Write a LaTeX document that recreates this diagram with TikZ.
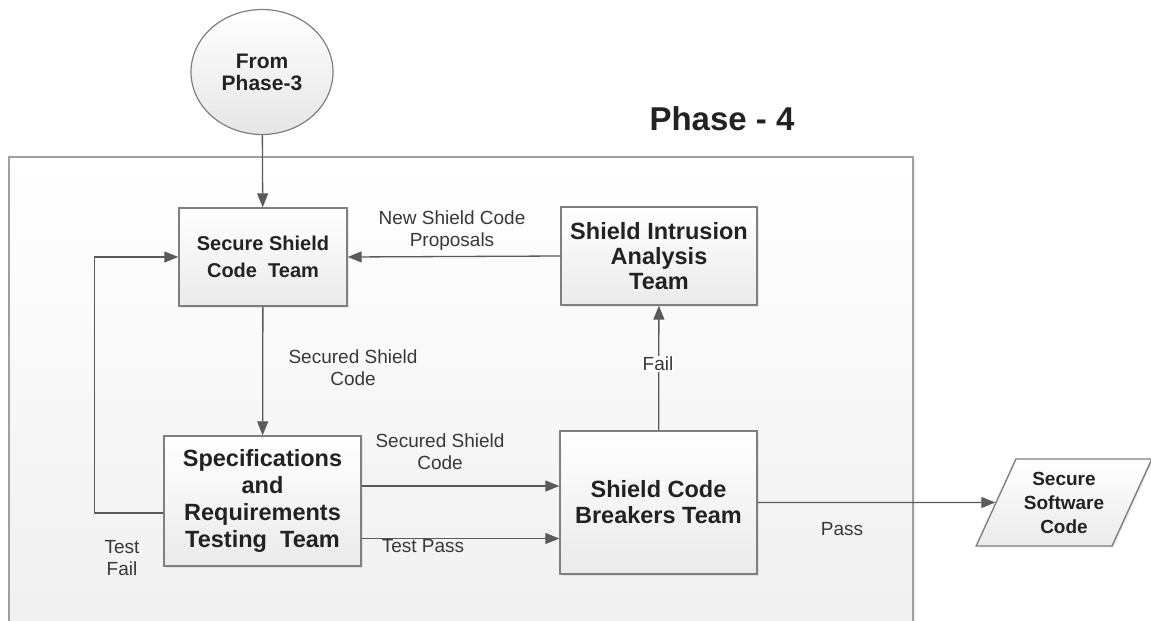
\documentclass[tikz,border=0pt]{standalone}
\usepackage{fontspec}
\setmainfont{Liberation Sans}
\usepackage{xcolor}
\usetikzlibrary{shapes.geometric,arrows.meta,shadows}

\definecolor{linegray}{HTML}{5A5A5A}
\definecolor{boxgray}{HTML}{7F7F7F}
\definecolor{txtgray}{HTML}{222222}

\tikzset{
  team/.style={draw=boxgray, line width=1.4pt, top color=white, bottom color=gray!16,
    align=center, text=txtgray, font=\bfseries\fontsize{23.5}{26}\selectfont,
    drop shadow={opacity=0.15, shadow xshift=1.5pt, shadow yshift=-1.5pt}},
  lbl/.style={align=center, text=txtgray!90, font=\fontsize{19}{22}\selectfont, inner sep=1pt},
  arr/.style={draw=linegray, line width=1.3pt, -{Triangle[length=14pt,width=11pt]}}
}

\begin{document}
\begin{tikzpicture}[x=1pt, y=-1pt]
  \useasboundingbox (0,0) rectangle (1151,621);
  \clip (0,0) rectangle (1151,621);

  % Draw the phase frame
  \draw[draw=gray!75, line width=1.3pt, top color=white, bottom color=gray!12,
    drop shadow={opacity=0.12, shadow xshift=2pt, shadow yshift=-1pt}] (9,157) rectangle (913,650);
  \node[text=txtgray, font=\bfseries\fontsize{33}{40}\selectfont] (phase) at (722,119) {Phase - 4};

  % Place the nodes
  \node[ellipse, draw=boxgray, line width=1.2pt, top color=white, bottom color=gray!20,
    minimum width=142pt, minimum height=125pt, align=center, text=txtgray,
    font=\bfseries\fontsize{21}{22}\selectfont] (from) at (262,72) {From\\Phase-3};
  \node[team, minimum width=168pt, minimum height=98pt, font=\bfseries\fontsize{20}{26.5}\selectfont] (secure) at (263,257) {Secure Shield\\Code\ \ Team};
  \node[team, minimum width=196pt, minimum height=98pt, font=\bfseries\fontsize{23.5}{25}\selectfont] (intrusion) at (659,256) {Shield Intrusion\\Analysis\\Team};
  \node[team, minimum width=197pt, minimum height=130pt, font=\bfseries\fontsize{23.5}{27}\selectfont] (spec) at (262.5,501) {Specifications\\and\\Requirements\\Testing\ \ Team};
  \node[team, minimum width=197pt, minimum height=143pt] (breakers) at (658.5,502.5) {Shield Code\\Breakers Team};
  \node[team, trapezium, trapezium left angle=64, trapezium right angle=116, trapezium stretches=true,
    minimum width=176pt, minimum height=87pt, inner xsep=0pt,
    font=\bfseries\fontsize{19}{24}\selectfont] (output) at (1064,502.5) {Secure\\Software\\Code};

  % Connectors
  \draw[arr] (from) -- (secure);
  \draw[arr] (intrusion.west) -- (secure.east);
  \draw[arr] (secure) -- (spec);
  \draw[arr] ([yshift=-12pt]spec.west) -- ++(-69,0) |- (secure.west);
  \draw[arr] ([yshift=15pt]spec.east) coordinate (s1) -- (s1 -| breakers.west);
  \draw[arr] ([yshift=-37.5pt]spec.east) coordinate (s2) -- (s2 -| breakers.west);
  \draw[arr] (breakers) -- (intrusion);
  \draw[arr] (breakers.east) -- (output);

  % Labels
  \node[lbl] (newcode) at (452,231) {New Shield Code\\Proposals};
  \node[lbl] (secured1) at (353,368) {Secured Shield\\Code};
  \node[lbl] (secured2) at (440,452) {Secured Shield\\Code};
  \node[lbl] (testpass) at (423,546) {Test Pass};
  \node[lbl] (testfail) at (122,558) {Test\\Fail};
  \node[lbl, fill=white] (fail) at (658,364) {Fail};
  \node[lbl] (pass) at (842,529) {Pass};
\end{tikzpicture}
\end{document}
